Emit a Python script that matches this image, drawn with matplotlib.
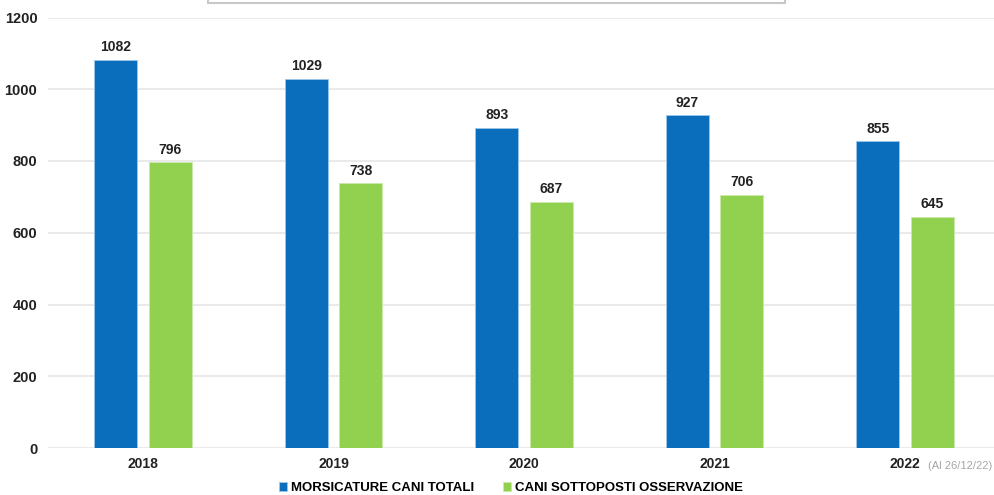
import matplotlib.pyplot as plt
import matplotlib.patches as patches
import numpy as np

plt.rcParams['font.family'] = ['Liberation Sans', 'DejaVu Sans']

years = ["2018", "2019", "2020", "2021", "2022"]
morsicature = [1082, 1029, 893, 927, 855]
osservazione = [796, 738, 687, 706, 645]
series_names = ["MORSICATURE CANI TOTALI", "CANI SOTTOPOSTI OSSERVAZIONE"]

blue = "#0A6EBD"
green = "#92D050"

fig = plt.figure(figsize=(9.95, 4.95), dpi=100)
ax = fig.add_axes([47.75 / 995, 1 - 448 / 495, 952.5 / 995, (448 - 17.5) / 495])

x = np.arange(len(years))
bw = 0.226
off = 0.142
b1 = ax.bar(x - off, morsicature, bw, color=blue, edgecolor="#9cc7ea", linewidth=0.6,
            label=series_names[0], zorder=3)
b2 = ax.bar(x + off, osservazione, bw, color=green, edgecolor="#c8eaa8", linewidth=0.6,
            label=series_names[1], zorder=3)

for bars in (b1, b2):
    for r in bars:
        ax.annotate(f"{int(r.get_height())}", (r.get_x() + r.get_width() / 2, r.get_height()),
                    xytext=(0, 4), textcoords="offset points", ha="center", va="bottom",
                    fontsize=10, fontweight="bold", color="#222222")

ax.set_xlim(-0.5, len(years) - 0.5)
ax.set_ylim(0, 1200)
ax.set_yticks(range(0, 1201, 200))
ax.set_xticks(x)
ax.set_xticklabels(years)
ax.grid(axis="y", color="#e6e6e6", linewidth=1.2, zorder=0)
ax.set_axisbelow(True)
for s in ax.spines.values():
    s.set_visible(False)
ax.tick_params(axis="both", length=0, labelsize=10, colors="#222222")
ax.tick_params(axis="y", labelsize=10.5, pad=7.5)
ax.tick_params(axis="x", pad=6.5)
for lab in ax.get_xticklabels() + ax.get_yticklabels():
    lab.set_fontweight("bold")

fig.text(928 / 995, 1 - 466 / 495, "(Al 26/12/22)", fontsize=8, color="#a6a6a6",
         ha="left", va="center")

fig.legend(handles=[b1, b2], loc="center", bbox_to_anchor=(511 / 995, 1 - 488 / 495),
           ncol=2, frameon=False, handlelength=0.6, handleheight=0.6, handletextpad=0.3,
           columnspacing=2.2, prop={"weight": "bold", "size": 9.5})

# partial box at the top of the image
fig.patches.append(patches.Rectangle((208 / 995, 1 - 2.5 / 495), 577 / 995, 0.05,
                                     transform=fig.transFigure, facecolor="white",
                                     edgecolor="#c8c8c8", linewidth=1.5))

fig.savefig("out.png", dpi=100)
